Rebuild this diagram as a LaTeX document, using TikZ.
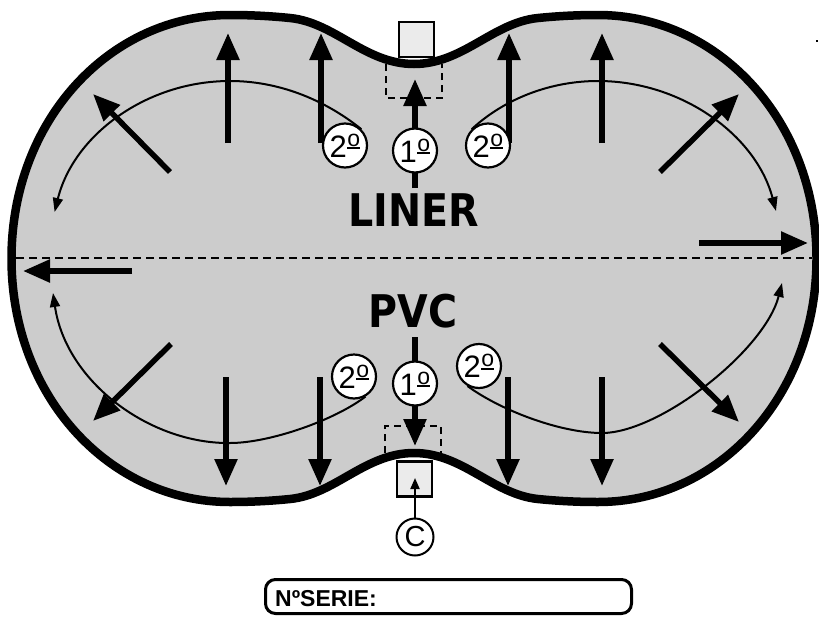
\documentclass[tikz,border=0pt]{standalone}
\usepackage{fontspec}
\setmainfont{Liberation Sans}
\newfontfamily\heavy{DejaVu Sans}
\usetikzlibrary{arrows.meta}
\definecolor{pool}{HTML}{CCCCCC}
\definecolor{boxfill}{HTML}{EBEBEB}
\pgfdeclarelayer{bg}
\pgfdeclarelayer{mid}
\pgfsetlayers{bg,mid,main}
\newcommand\ordm{\kern0.5pt\raisebox{8pt}{\vbox{\hbox{\fontsize{23}{23}\selectfont o}\kern1pt\hrule height 2pt}}}
\newcommand\heavytext[1]{\scalebox{0.88}[1]{\heavy\bfseries #1}}
\tikzset{
  bigarrow/.style={line width=5.5pt,-{Triangle[length=27pt,width=22pt]}},
  thinarc/.style={line width=2pt,-{Triangle[length=14pt,width=10pt]}},
  smallarrow/.style={line width=2pt,-{Triangle[length=11pt,width=9pt]}},
  order/.style={circle,draw,line width=2.2pt,fill=white,minimum size=44pt,inner sep=0pt,font=\fontsize{31}{31}\selectfont},
  dashbox/.style={line width=2pt,dash pattern=on 7pt off 5pt},
  midline/.style={line width=2pt,dash pattern=on 8pt off 5pt},
  inlet/.style={draw,line width=2.8pt,fill=boxfill,minimum size=35pt,inner sep=0pt},
  title/.style={font=\fontsize{45}{45}\selectfont,inner sep=0pt},
}
\begin{document}
\begin{tikzpicture}[x=1pt,y=-1pt]
\useasboundingbox (0,0) rectangle (819,616);
\begin{pgfonlayer}{bg}
% pool outline
\path[fill=pool,draw=black,line width=8.5pt]
  (11.5,258.5) .. controls (11.5,120) and (110,15) .. (230,15)
  .. controls (255,15) and (275,16.5) .. (290,18)
  .. controls (335,22.5) and (365,64) .. (414,64)
  .. controls (463,64) and (493,22.5) .. (538,18)
  .. controls (553,16.5) and (573,15) .. (598,15)
  .. controls (718,15) and (816.5,120) .. (816.5,258.5)
  .. controls (816.5,397) and (718,502) .. (598,502)
  .. controls (573,502) and (553,500.5) .. (538,499)
  .. controls (493,494.5) and (463,453) .. (414,453)
  .. controls (365,453) and (335,494.5) .. (290,499)
  .. controls (275,500.5) and (255,502) .. (230,502)
  .. controls (110,502) and (11.5,397) .. (11.5,258.5) -- cycle;
% dashed boxes
\draw[dashbox] (386,64) -- (386,98) -- (442,98) -- (442,64);
\draw[dashbox] (385,453) -- (385,426) -- (441,426) -- (441,453);
% midline
\coordinate (mL) at (16,258);
\coordinate (mR) at (812,258);
\draw[midline] (mL) -- (mR);
\end{pgfonlayer}
% inlets
\node[inlet] (inT) at (416.5,39.5) {};
\node[inlet] (inB) at (414.5,479) {};
% order circles
\node[order] (c1T) at (415,150.5) {1\ordm};
\node[order] (c2TL) at (345,145.5) {2\ordm};
\node[order] (c2TR) at (488,145.5) {2\ordm};
\node[order] (c1B) at (415,383.5) {1\ordm};
\node[order] (c2BL) at (354,376.5) {2\ordm};
\node[order] (c2BR) at (479,366) {2\ordm};
% titles
\node[title] (liner) at (414,210) {\heavytext{LINER}};
\node[title] (pvc) at (413,311) {\heavytext{PVC}};
\begin{pgfonlayer}{mid}
% thin arcs
\coordinate (tTL) at (54.6,212);
\coordinate (tTR) at (776,211);
\coordinate (tBL) at (53,293);
\coordinate (tBR) at (782,283);
\draw[thinarc] (c2TL.45) .. controls (323.5,98.8) and (277.7,81) .. (230,81)
  .. controls (146.2,81) and (73.5,135.3) .. (tTL);
\draw[thinarc] (c2TR.135) .. controls (504.5,98.8) and (550.3,81) .. (598,81)
  .. controls (681.8,81) and (756,135.3) .. (tTR);
\draw[thinarc] (c2BL.-60) .. controls (335,420) and (270,443) .. (230,443)
  .. controls (150,444) and (66,382) .. (tBL);
\draw[thinarc] (c2BR.-120) .. controls (500,410) and (560,433) .. (602,433)
  .. controls (660,433) and (765,350) .. (tBR);
% thick arrows, top half
\coordinate (a1s) at (228,143); \coordinate (a1e) at (228,33);
\coordinate (a2s) at (321,143); \coordinate (a2e) at (321,33);
\coordinate (a3s) at (509,143); \coordinate (a3e) at (509,33);
\coordinate (a4s) at (602,143); \coordinate (a4e) at (602,33);
\coordinate (a5s) at (170,172); \coordinate (a5e) at (93,94);
\coordinate (a6s) at (660,172); \coordinate (a6e) at (739,94);
\coordinate (a7s) at (699,243); \coordinate (a7e) at (808,243);
\coordinate (a8s) at (415,188); \coordinate (a8e) at (415,79);
% thick arrows, bottom half
\coordinate (b1s) at (226,377); \coordinate (b1e) at (226,486);
\coordinate (b2s) at (320,377); \coordinate (b2e) at (320,486);
\coordinate (b3s) at (508,377); \coordinate (b3e) at (508,486);
\coordinate (b4s) at (602,377); \coordinate (b4e) at (602,486);
\coordinate (b5s) at (171,344); \coordinate (b5e) at (93,421);
\coordinate (b6s) at (660,344); \coordinate (b6e) at (739,422);
\coordinate (b7s) at (132,271); \coordinate (b7e) at (23,271);
\coordinate (b8s) at (415,337); \coordinate (b8e) at (415,446);
\foreach \n in {a1,a2,a3,a4,a5,a6,a7,a8,b1,b2,b3,b4,b5,b6,b7,b8}
  \draw[bigarrow] (\n s) -- (\n e);
\end{pgfonlayer}
% C marker
\node[circle,draw,line width=2pt,minimum size=37pt,inner sep=0pt,font=\fontsize{29}{29}\selectfont] (cc) at (415,537) {C};
\coordinate (tC) at (415,478);
\draw[smallarrow] (cc.north) -- (tC);
% serial box
\node[draw,line width=3pt,rounded corners=10pt,minimum width=366pt,minimum height=34pt,inner sep=0pt] (serie) at (448.5,596.5) {};
\node[anchor=west,inner sep=0pt,font=\bfseries\fontsize{23}{23}\selectfont] (serielbl) at (275,599) {NºSERIE:};
% stray dot
\fill (816,40) rectangle (818,42);
\end{tikzpicture}
\end{document}
